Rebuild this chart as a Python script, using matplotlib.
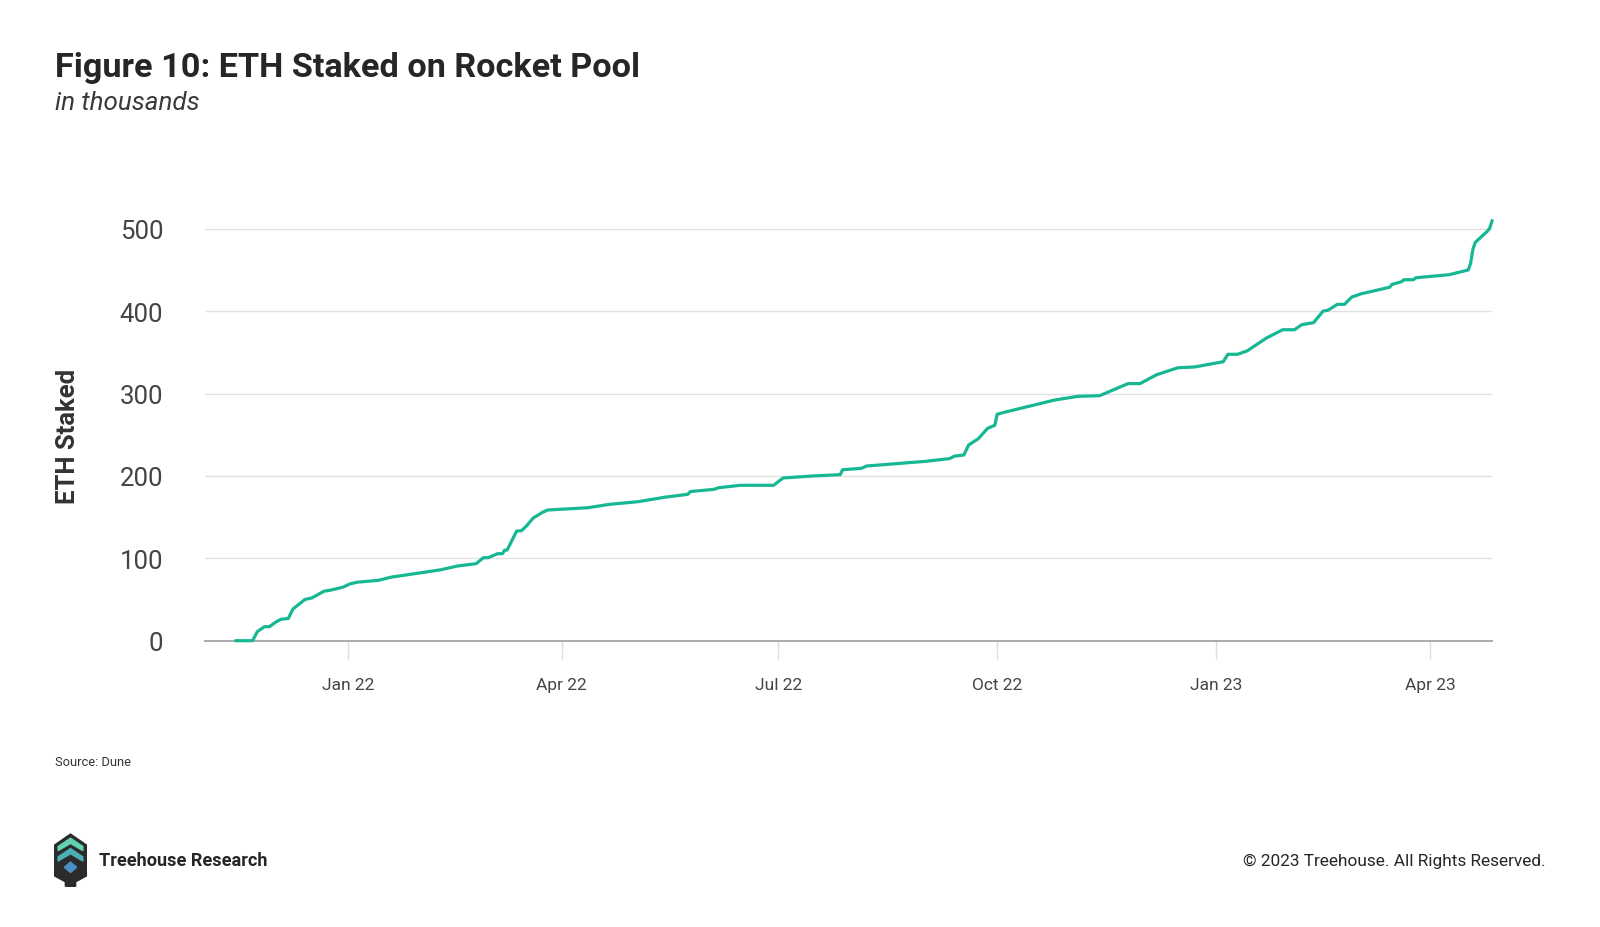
import matplotlib
matplotlib.use("Agg")
import matplotlib.pyplot as plt
from matplotlib.patches import Polygon
import pandas as pd

# cumulative ETH staked on Rocket Pool (thousands)
dates = [
    "2021-11-15", "2021-11-22", "2021-11-24", "2021-11-27", "2021-11-29", "2021-12-02",
    "2021-12-04", "2021-12-07", "2021-12-09", "2021-12-14", "2021-12-17", "2021-12-22",
    "2021-12-25", "2021-12-30", "2022-01-02", "2022-01-05", "2022-01-14", "2022-01-19",
    "2022-02-02", "2022-02-09", "2022-02-16", "2022-02-24", "2022-02-27", "2022-03-01",
    "2022-03-05", "2022-03-07", "2022-03-08", "2022-03-09", "2022-03-13", "2022-03-15",
    "2022-03-17", "2022-03-20", "2022-03-24", "2022-03-26", "2022-04-12", "2022-04-21",
    "2022-05-03", "2022-05-14", "2022-05-24", "2022-05-25", "2022-06-04", "2022-06-06",
    "2022-06-15", "2022-06-29", "2022-07-03", "2022-07-16", "2022-07-27", "2022-07-28",
    "2022-08-05", "2022-08-07", "2022-09-01", "2022-09-11", "2022-09-13", "2022-09-17",
    "2022-09-19", "2022-09-23", "2022-09-27", "2022-09-30", "2022-10-01", "2022-10-04",
    "2022-10-25", "2022-11-04", "2022-11-13", "2022-11-25", "2022-11-30", "2022-12-07",
    "2022-12-16", "2022-12-23", "2023-01-04", "2023-01-06", "2023-01-10", "2023-01-14",
    "2023-01-22", "2023-01-29", "2023-02-03", "2023-02-06", "2023-02-11", "2023-02-15",
    "2023-02-17", "2023-02-21", "2023-02-24", "2023-02-27", "2023-03-03", "2023-03-15",
    "2023-03-16", "2023-03-20", "2023-03-21", "2023-03-25", "2023-03-26", "2023-04-09",
    "2023-04-17", "2023-04-18", "2023-04-19", "2023-04-20", "2023-04-25", "2023-04-26",
    "2023-04-27",
]
eth_staked = [
    0, 0, 11, 17, 17, 23,
    26, 27, 38.5, 50, 52, 60,
    61.5, 65, 69, 71, 73.3, 77,
    83, 86, 90.6, 93.5, 100.7, 100.7,
    105.6, 105.6, 110, 110, 133, 133.5,
    138.8, 149, 156, 158.6, 161.4, 165.5,
    168.7, 174, 177.7, 181, 183.7, 185.7,
    188.6, 188.6, 197.5, 200, 201.5, 207.5,
    209.2, 212, 217.7, 221, 224, 225.4,
    237.5, 245, 257.8, 261.4, 274.8, 277.2,
    292, 296.6, 297.3, 312, 312, 322.8,
    331.3, 332.2, 338.6, 347.6, 347.6, 351.6,
    367, 377.4, 377.4, 383.5, 386, 400,
    401, 408.2, 408.2, 417, 421, 429,
    432.5, 435.7, 438.1, 438.1, 440.5, 444.2,
    449.9, 458, 475.4, 483.5, 496.8, 500.5,
    509.4,
]
yticks = [0, 100, 200, 300, 400, 500]
xticks = ["2022-01-01", "2022-04-01", "2022-07-01", "2022-10-01", "2023-01-01", "2023-04-01"]
xticklabels = ["Jan 22", "Apr 22", "Jul 22", "Oct 22", "Jan 23", "Apr 23"]

plt.rcParams['font.family'] = ['Roboto', 'DejaVu Sans']

fig = plt.figure(figsize=(16, 9.28), dpi=100)
W, H = 1600, 928

ax = fig.add_axes([205 / W, 1 - 641.7 / H, (1492 - 205) / W, (641.7 - 205) / H])
x = pd.to_datetime(dates)
ax.plot(x, eth_staked, color='#17b794', lw=2.3, solid_joinstyle='round', clip_on=False)

ax.set_xlim(pd.Timestamp("2021-11-02"), pd.Timestamp("2023-04-27"))
ax.set_ylim(0, 530)
ax.set_yticks(yticks)
ax.set_yticklabels([str(v) for v in yticks], fontsize=18.5, color='#444444')
ax.tick_params(axis='y', length=0, pad=30)
ax.set_xticks(pd.to_datetime(xticks))
ax.set_xticklabels(xticklabels, fontsize=12.5, color='#444444')
ax.tick_params(axis='x', length=13, color='#dddddd', width=1, pad=13)
ax.grid(axis='y', color='#e2e2e2', lw=1)
ax.set_axisbelow(True)
for s in ['top', 'right', 'left']:
    ax.spines[s].set_visible(False)
ax.spines['bottom'].set_color('#aaaaaa')
ax.spines['bottom'].set_linewidth(1.4)
ax.spines['bottom'].set_zorder(1)

fig.text(68 / W, 1 - 436 / H, 'ETH Staked', rotation=90, ha='center', va='center',
         fontsize=18.5, fontweight='bold', color='#333333')

fig.text(55 / W, 1 - 77 / H, 'Figure 10: ETH Staked on Rocket Pool', fontsize=24.7,
         fontweight='bold', color='#262626', ha='left', va='baseline')
fig.text(55 / W, 1 - 110 / H, 'in thousands', fontsize=18.7, fontstyle='italic',
         color='#3a3a3a', ha='left', va='baseline')
fig.text(55 / W, 1 - 766 / H, 'Source: Dune', fontsize=9.3, color='#333333',
         ha='left', va='baseline')

fig.text(99 / W, 1 - 866 / H, 'Treehouse Research', fontsize=13.1, fontweight='bold',
         color='#262626', ha='left', va='baseline')
fig.text(1546 / W, 1 - 866 / H, '\u00a9 2023 Treehouse. All Rights Reserved.', fontsize=12.4,
         color='#262626', ha='right', va='baseline')

# logo
lg = fig.add_axes([54 / W, 1 - 888 / H, 33 / W, 54 / H])
lg.set_xlim(0, 32)
lg.set_ylim(0, 52)
lg.axis('off')
lg.add_patch(Polygon([(0, 11), (0, 40), (16, 51), (32, 40), (32, 11), (21, 5), (21, 1),
                      (16, -1), (11, 1), (11, 5)], closed=True, color='#2b2b2b'))
lg.add_patch(Polygon([(4, 39), (16, 47), (28, 39), (28, 35), (16, 42), (4, 35)],
                     closed=True, color='#62d1b4'))
lg.add_patch(Polygon([(4, 29), (16, 37), (28, 29), (28, 25), (16, 32), (4, 25)],
                     closed=True, color='#4bb0b4'))
lg.add_patch(Polygon([(10, 19), (16, 24), (22, 19), (16, 14)], closed=True, color='#4a8fc4'))

fig.savefig('out.png', dpi=100, facecolor='white')
